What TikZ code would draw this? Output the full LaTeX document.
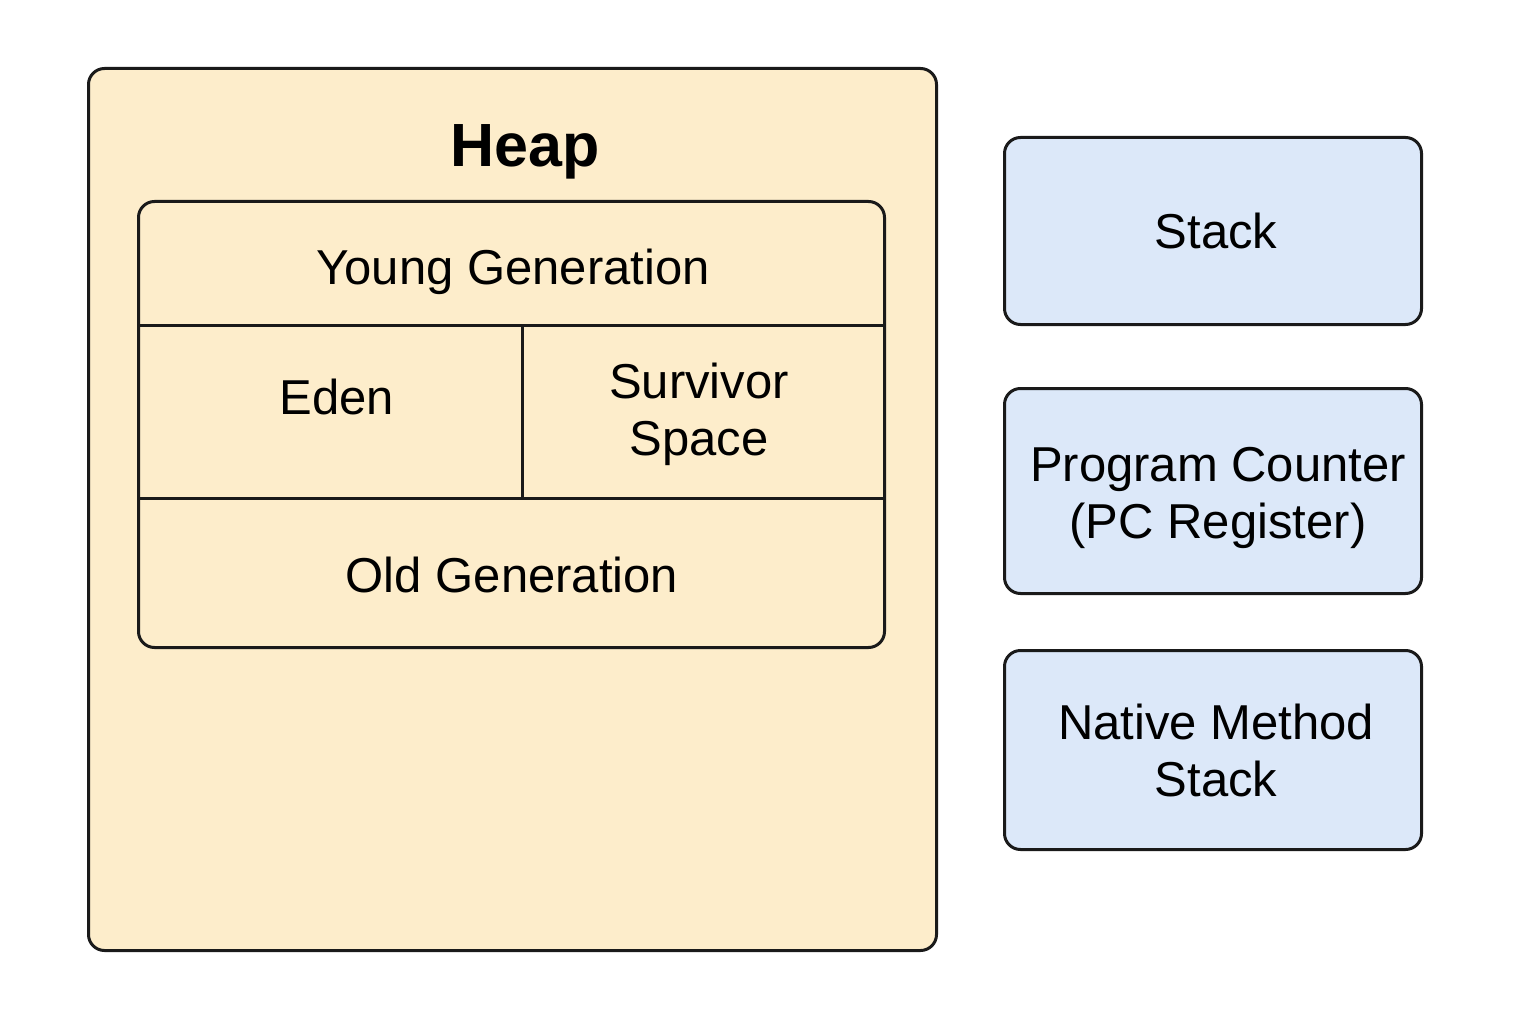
\documentclass[tikz,border=0pt]{standalone}
\usepackage{fontspec}
\setmainfont{Liberation Sans}
\definecolor{heapfill}{HTML}{FDEDCB}
\definecolor{bluefill}{HTML}{DCE8F9}
\definecolor{linec}{HTML}{1A1A1A}
\begin{document}
\begin{tikzpicture}[x=1pt,y=-1pt,
  box/.style={draw=linec, line width=3pt, rounded corners=16pt, inner sep=0pt, anchor=north west},
  heapbox/.style={box, fill=heapfill},
  bluebox/.style={box, fill=bluefill},
  lbl/.style={font=\fontsize{49}{57}\selectfont, align=center, text=black},
  divider/.style={draw=linec, line width=3pt}
]
\useasboundingbox (0,0) rectangle (1536,1024);
\fill[white] (0,0) rectangle (1536,1024);
% Heap
\node[heapbox, minimum width=848pt, minimum height=882pt] (heap) at (87,67) {};
\node[font=\fontsize{61}{66}\selectfont\bfseries] (heapt) at (525,152) {Heap};
\node[heapbox, minimum width=746pt, minimum height=446pt] (inner) at (137,200) {};
\coordinate (d1) at (137,325);
\coordinate (d2) at (884,325);
\coordinate (d3) at (137,498);
\coordinate (d4) at (884,498);
\coordinate (v1) at (522,325);
\coordinate (v2) at (522,498);
\draw[divider] (d1) -- (d2);
\draw[divider] (d3) -- (d4);
\draw[divider] (v1) -- (v2);
\node[lbl] (young) at (513,272) {Young Generation};
\node[lbl] (eden) at (337,397) {Eden};
\node[lbl] (surv) at (699,414) {Survivor\\Space};
\node[lbl] (old) at (512,575) {Old Generation};
% Right boxes
\node[bluebox, minimum width=417pt, minimum height=187pt] (stack) at (1003,136) {};
\node[lbl] at ([xshift=3pt]stack.center) {Stack};
\node[bluebox, minimum width=417pt, minimum height=205pt] (pc) at (1003,387) {};
\node[lbl] at ([xshift=5pt,yshift=-7pt]pc.center) {Program Counter\\(PC Register)};
\node[bluebox, minimum width=417pt, minimum height=199pt] (nms) at (1003,649) {};
\node[lbl] at ([xshift=3pt]nms.center) {Native Method\\Stack};
\end{tikzpicture}
\end{document}
